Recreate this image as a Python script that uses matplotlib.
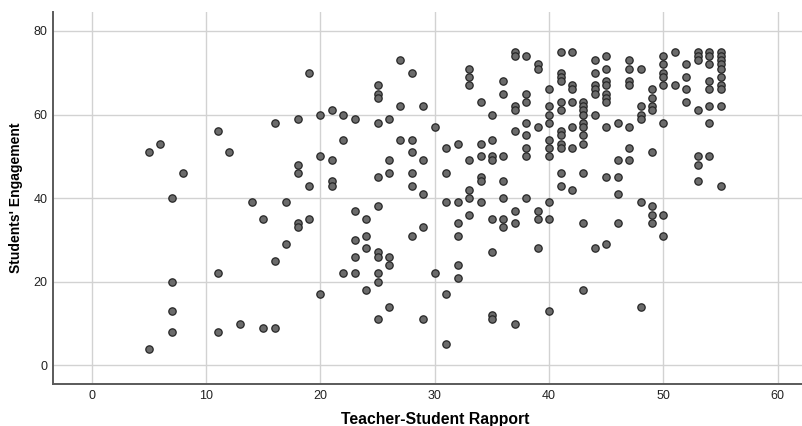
import matplotlib
matplotlib.use("Agg")
import matplotlib.pyplot as plt

# Teacher-Student Rapport scores (x) and Students' Engagement scores (y)
rapport = [
    5, 6, 8, 7, 11, 12, 16, 18, 18, 18, 14, 17,
    15, 18, 18, 17, 16, 11, 7, 7, 7, 5, 11, 13, 15, 16,
    19, 20, 21, 22, 23, 22, 20, 21, 19, 21, 21,
    25, 25, 25, 27, 28, 27, 29, 25, 26, 27, 28, 28, 26, 29, 25, 26, 28, 28, 29, 30,
    31, 32, 33, 33, 33, 34, 35, 34, 35, 34, 35, 35, 36, 33, 31, 34, 34, 36, 33, 33, 36, 38,
    36, 36, 37, 37, 38, 39, 39, 38, 38, 37, 37, 38, 39, 37, 38, 38, 38,
    40, 40, 40, 40, 40, 40, 40,
    41, 42, 41, 41, 41, 42, 42, 41, 42, 41,
    43, 43, 43, 43, 43, 43, 43, 43,
    42, 41, 41, 41, 41, 42, 41, 43, 41, 42,
    44, 44, 44, 44, 44, 45, 45, 45, 45, 45, 45, 45, 44, 45, 46, 47,
    47, 47, 48, 47, 47, 49, 49, 49, 49, 48, 48, 48,
    50, 50, 50, 50, 50, 51, 51, 52, 52, 52, 52, 53, 53, 53, 54, 54, 54, 53, 54, 54, 54, 54,
    55, 55, 55, 55, 55, 55, 55, 55, 55, 50,
    47, 47, 46, 49, 45, 46, 46, 53, 54, 53, 53, 55,
    19, 31, 32, 34, 40, 25, 23, 24, 23, 24, 24, 25, 25, 26, 26, 23, 22, 23, 25, 25,
    24, 20, 26, 25, 29, 28, 29, 30, 31, 31, 32, 32, 32, 32, 33, 35, 36, 36, 37, 37,
    35, 35, 35, 37, 39, 39, 40, 39, 40,
    48, 49, 49, 49, 50, 50, 43, 46, 44, 45, 43, 48,
]
engagement = [
    51, 53, 46, 40, 56, 51, 58, 59, 48, 46, 39, 39,
    35, 34, 33, 29, 25, 22, 20, 13, 8, 4, 8, 10, 9, 9,
    70, 60, 61, 60, 59, 54, 50, 49, 43, 44, 43,
    67, 65, 64, 73, 70, 62, 62, 58, 59, 54, 54, 51, 49, 49, 45, 46, 46, 43, 41, 57,
    52, 53, 71, 69, 67, 63, 60, 53, 54, 50, 50, 49, 50, 49, 46, 45, 44, 44, 42, 40, 40, 40,
    68, 65, 75, 74, 74, 72, 71, 65, 63, 62, 61, 58, 57, 56, 55, 52, 50,
    66, 62, 60, 58, 54, 52, 50,
    75, 75, 70, 69, 68, 67, 66, 63, 63, 61,
    63, 62, 61, 60, 58, 57, 55, 53,
    57, 56, 55, 53, 52, 52, 46, 46, 43, 42,
    73, 70, 67, 66, 65, 74, 71, 68, 67, 65, 64, 63, 60, 57, 58, 57,
    73, 71, 71, 68, 67, 66, 64, 62, 61, 62, 60, 59,
    74, 72, 70, 69, 67, 75, 67, 72, 69, 66, 63, 75, 74, 73, 75, 74, 72, 61, 68, 66, 62, 58,
    75, 74, 73, 72, 71, 69, 67, 66, 62, 58,
    52, 49, 49, 51, 45, 45, 41, 50, 50, 48, 44, 43,
    35, 39, 39, 39, 39, 38, 37, 35, 30, 31, 28, 27, 26, 26, 24, 26, 22, 22, 22, 20,
    18, 17, 14, 11, 11, 31, 33, 22, 17, 5, 34, 31, 24, 21, 36, 35, 35, 33, 37, 34,
    27, 12, 11, 10, 37, 35, 35, 28, 13,
    39, 38, 36, 34, 36, 31, 34, 34, 28, 29, 18, 14,
]

plt.rcParams["font.family"] = ["Liberation Sans", "DejaVu Sans"]

fig = plt.figure(figsize=(8.03, 4.26), dpi=100)
ax = fig.add_axes([0.0664, 0.0986, 0.9336, 0.873])

ax.scatter(rapport, engagement, s=28, color="#6b6b6b",
           edgecolors="#262626", linewidths=0.9, zorder=3)

ax.set_xlim(-3.36, 62.2)
ax.set_ylim(-4.47, 84.5)
ax.set_xticks([0, 10, 20, 30, 40, 50, 60])
ax.set_yticks([0, 20, 40, 60, 80])
ax.grid(True, color="#d2d2d2", linewidth=1.0, zorder=0)
ax.set_axisbelow(True)

ax.tick_params(length=0, labelsize=9, colors="#222222", pad=4)
for side in ["top", "right"]:
    ax.spines[side].set_visible(False)
for side in ["left", "bottom"]:
    ax.spines[side].set_color("#5a5a5a")
    ax.spines[side].set_linewidth(1.4)

ax.set_xlabel("Teacher-Student Rapport", fontsize=11.3, fontweight="bold")
ax.xaxis.set_label_coords(0.509, -0.076)
ax.set_ylabel("Students' Engagement", fontsize=10, fontweight="bold")
ax.yaxis.set_label_coords(-0.0404, 0.5)

fig.savefig("out.png", dpi=100)
